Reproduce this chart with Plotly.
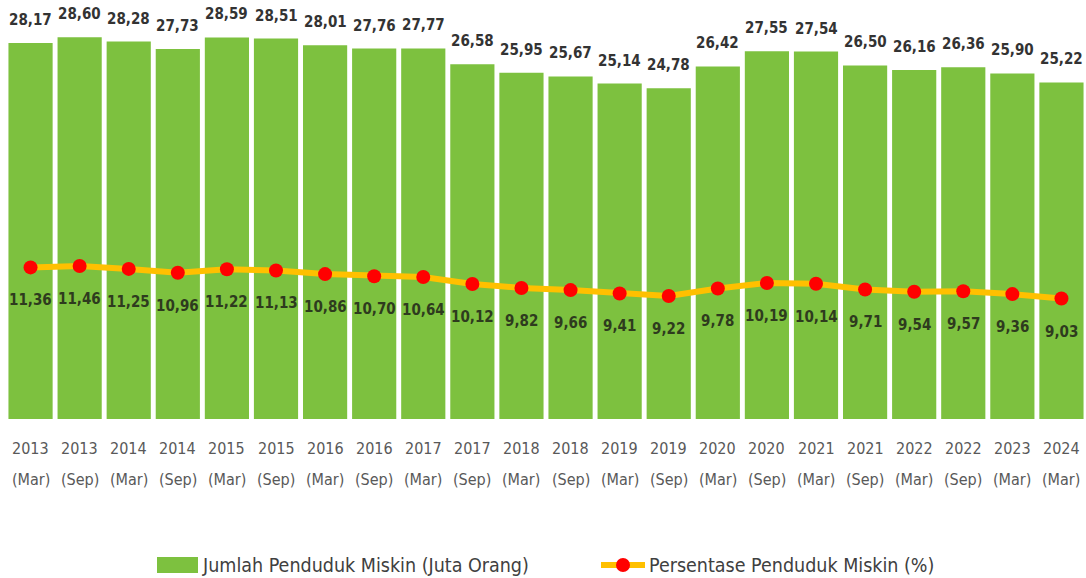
import plotly.graph_objects as go

years = ["2013", "2013", "2014", "2014", "2015", "2015", "2016", "2016", "2017", "2017", "2018",
         "2018", "2019", "2019", "2020", "2020", "2021", "2021", "2022", "2022", "2023", "2024"]
months = ["(Mar)", "(Sep)", "(Mar)", "(Sep)", "(Mar)", "(Sep)", "(Mar)", "(Sep)", "(Mar)", "(Sep)", "(Mar)",
          "(Sep)", "(Mar)", "(Sep)", "(Mar)", "(Sep)", "(Mar)", "(Sep)", "(Mar)", "(Sep)", "(Mar)", "(Mar)"]
jumlah = [28.17, 28.60, 28.28, 27.73, 28.59, 28.51, 28.01, 27.76, 27.77, 26.58, 25.95,
          25.67, 25.14, 24.78, 26.42, 27.55, 27.54, 26.50, 26.16, 26.36, 25.90, 25.22]
persen = [11.36, 11.46, 11.25, 10.96, 11.22, 11.13, 10.86, 10.70, 10.64, 10.12, 9.82,
          9.66, 9.41, 9.22, 9.78, 10.19, 10.14, 9.71, 9.54, 9.57, 9.36, 9.03]
series_names = ["Jumlah Penduduk Miskin (Juta Orang)", "Persentase Penduduk Miskin (%)"]

cats = [f"{y} {m}" for y, m in zip(years, months)]
FONT = "DejaVu Sans Condensed, Liberation Sans Narrow, sans-serif"
GREEN = "#7DC13F"
ORANGE = "#FFC000"
RED = "#FF0000"

W, H = 1086, 578
ML, MR, MT, MB = 6, 0, 12, 159
PW, PH = W - ML - MR, H - MT - MB

def px_x(x):
    return (x - ML) / PW

def px_y(y):
    return (H - MB - y) / PH

def fmt(v):
    return f"{v:.2f}".replace(".", ",")

fig = go.Figure()
fig.add_trace(go.Bar(
    x=cats, y=jumlah, name=series_names[0], showlegend=False,
    marker=dict(color=GREEN, line=dict(width=0)),
))
fig.add_trace(go.Scatter(
    x=cats, y=persen, name=series_names[1], mode="lines+markers", showlegend=False,
    line=dict(color=ORANGE, width=6),
    marker=dict(color=RED, size=14),
))

ann = []
for c, v in zip(cats, jumlah):
    ann.append(dict(x=c, y=v, xref="x", yref="y", text=fmt(v), showarrow=False,
                    yanchor="bottom", yshift=12,
                    font=dict(family=FONT, size=15, color="#333333", weight="bold")))
for c, v in zip(cats, persen):
    ann.append(dict(x=c, y=v, xref="x", yref="y", text=fmt(v), showarrow=False,
                    yanchor="middle", yshift=-33,
                    font=dict(family=FONT, size=15, color="#2E3B1E", weight="bold")))
for c, y, m in zip(cats, years, months):
    ann.append(dict(x=c, y=0, xref="x", yref="paper", text=y, showarrow=False,
                    yanchor="middle", yshift=-29,
                    font=dict(family=FONT, size=16, color="#595959")))
    ann.append(dict(x=c, y=0, xref="x", yref="paper", text=m, showarrow=False,
                    yanchor="middle", yshift=-60,
                    font=dict(family=FONT, size=16, color="#595959")))

# manual legend
LEG_Y = 565
shapes = [
    dict(type="rect", xref="paper", yref="paper",
         x0=px_x(157), x1=px_x(198), y0=px_y(573), y1=px_y(557),
         fillcolor=GREEN, line=dict(width=0), layer="above"),
    dict(type="line", xref="paper", yref="paper",
         x0=px_x(601), x1=px_x(645), y0=px_y(LEG_Y), y1=px_y(LEG_Y),
         line=dict(color=ORANGE, width=6), layer="above"),
    dict(type="circle", xref="paper", yref="paper",
         x0=px_x(616), x1=px_x(630), y0=px_y(LEG_Y + 7), y1=px_y(LEG_Y - 7),
         fillcolor=RED, line=dict(width=0), layer="above"),
]
ann.append(dict(x=px_x(200), y=px_y(LEG_Y), xref="paper", yref="paper", text=series_names[0],
                showarrow=False, xanchor="left", yanchor="middle",
                font=dict(family=FONT, size=19.5, color="#404040")))
ann.append(dict(x=px_x(647), y=px_y(LEG_Y), xref="paper", yref="paper", text=series_names[1],
                showarrow=False, xanchor="left", yanchor="middle",
                font=dict(family=FONT, size=19.5, color="#404040")))

fig.update_layout(
    width=W, height=H,
    margin=dict(l=ML, r=MR, t=MT, b=MB, autoexpand=False),
    plot_bgcolor="white", paper_bgcolor="white",
    bargap=0.1,
    annotations=ann,
    shapes=shapes,
    xaxis=dict(range=[-0.5, len(cats) - 0.5], showticklabels=False, showgrid=False,
               zeroline=False, showline=False, ticks=""),
    yaxis=dict(range=[0, 30.5], visible=False),
    showlegend=False,
)

fig.write_html(
    "out.html",
    config={"displayModeBar": False},
    post_script="document.body.style.margin='0';document.body.style.overflow='hidden';",
)
